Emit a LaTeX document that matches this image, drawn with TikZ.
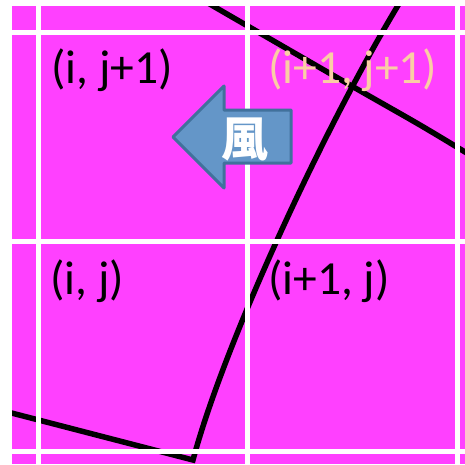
\documentclass[tikz,border=0pt]{standalone}
\usepackage{fontspec}
\setmainfont{Carlito}
\newfontfamily\cjkfont{Noto Sans CJK TC}
\definecolor{cellpink}{RGB}{255,64,255}
\definecolor{peach}{RGB}{250,205,165}
\definecolor{arrowfill}{RGB}{100,150,200}
\definecolor{arrowedge}{RGB}{65,113,156}

\begin{document}
\begin{tikzpicture}[x=1pt, y=-1pt,
    gridline/.style={white, line width=5pt},
    curve/.style={black, line width=5.5pt},
    cell/.style={anchor=west, inner sep=0pt, font=\fontsize{47.5}{52}\selectfont}]
    \useasboundingbox (0,0) rectangle (465,464);

    % Background
    \fill[cellpink] (12,6) rectangle (465,464);

    % Black curves (clipped to the background)
    \begin{scope}
        \clip (12,6) rectangle (465,464);
        \draw[curve] plot[smooth] coordinates {(200,-2) (220,10) (350,85) (420,125) (470,155)};
        \draw[curve, line join=miter] (405,-6) .. controls (330,115) and (225,340) .. (193,460) -- (0,410);
    \end{scope}

    % Cell labels
    \node[cell] (cellij1) at (51,70) {(i, j+1)};
    \node[cell, text=peach] (celli1j1) at (268,70) {(i+1, j+1)};
    \node[cell] (cellij) at (50,281) {(i, j)};
    \node[cell] (celli1j) at (268,281) {(i+1, j)};

    % Grid lines
    \foreach \x in {38,247.5,457}
        \draw[gridline] (\x,0) -- (\x,464);
    \foreach \y in {32,241,451}
        \draw[gridline] (0,\y) -- (465,\y);

    % Wind arrow
    \draw[arrowedge, fill=arrowfill, line width=3pt, line join=round]
        (173,137) -- (224,86) -- (224,110) -- (291,110) -- (291,163)
        -- (224,163) -- (224,188) -- cycle;
    \node[text=white, font=\cjkfont\bfseries\fontsize{47}{47}\selectfont] (wind) at (245,140) {風};
\end{tikzpicture}
\end{document}
